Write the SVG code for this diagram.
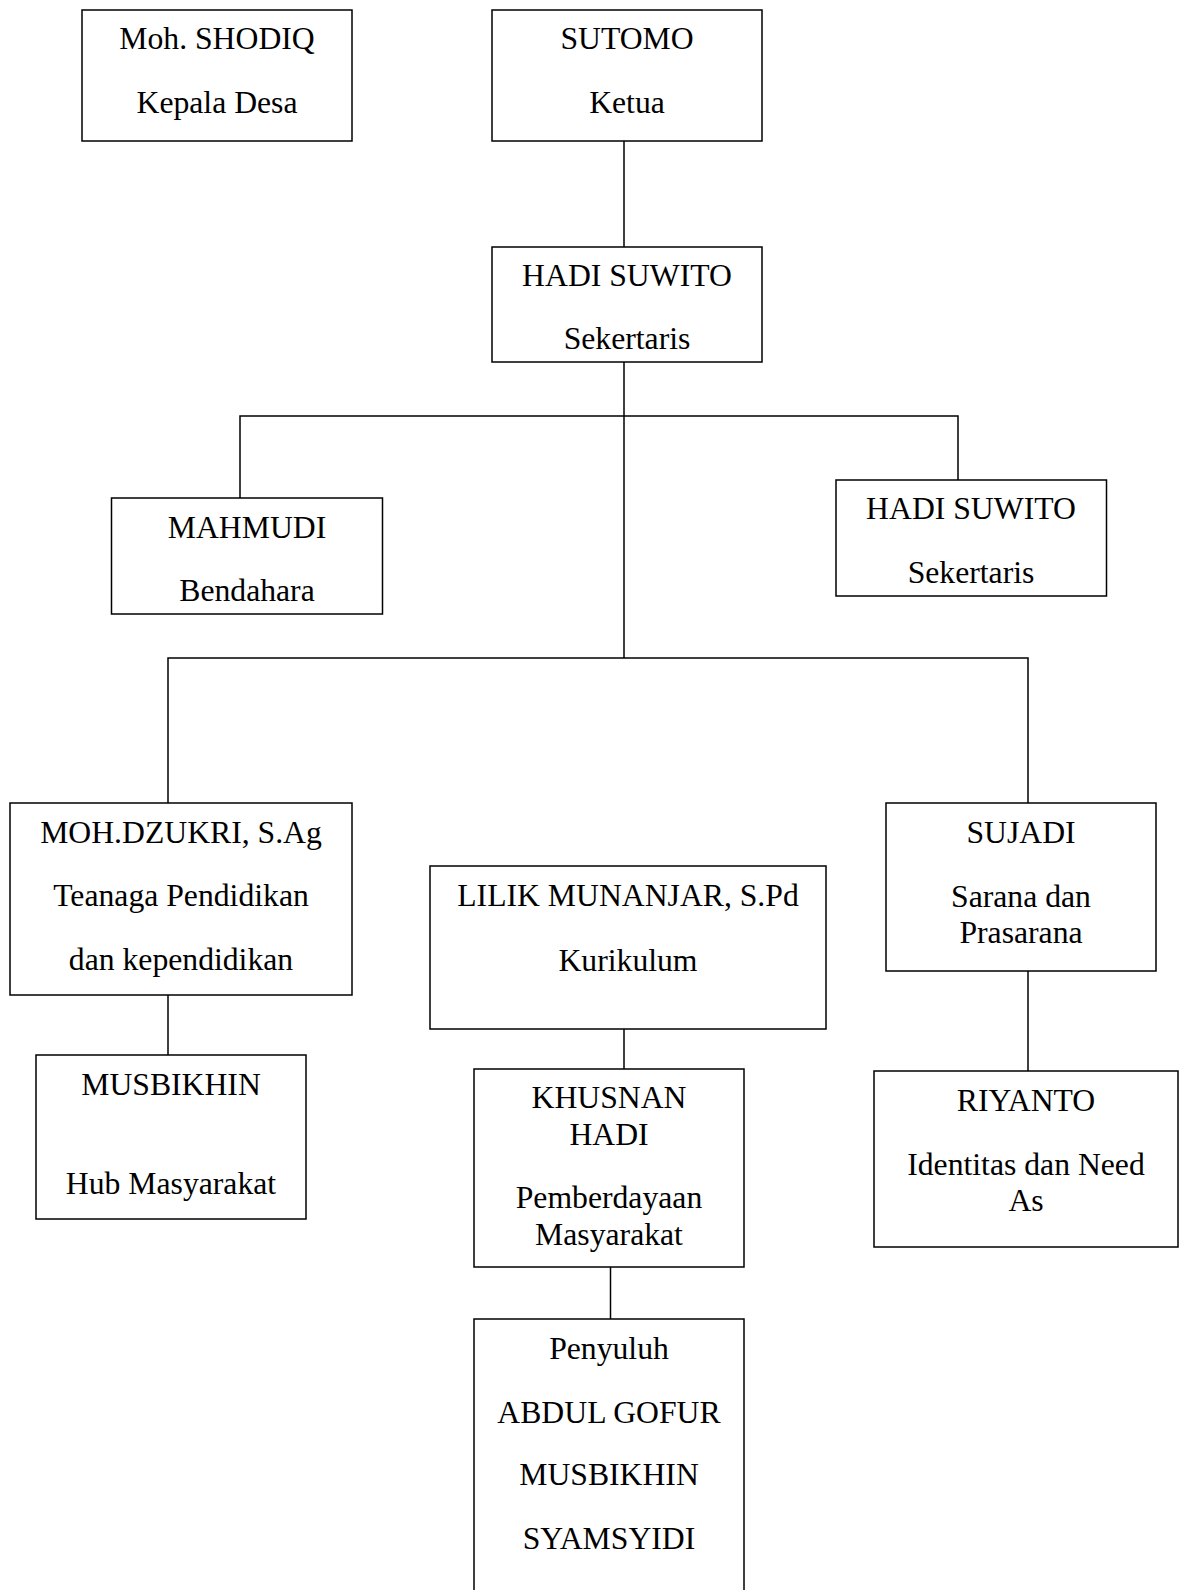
<svg xmlns="http://www.w3.org/2000/svg" width="1185" height="1590" viewBox="0 0 1185 1590">
<style>
.box{fill:#fff;stroke:#000;stroke-width:1.5}
.t{font-family:"Liberation Serif","Times New Roman",serif;font-size:31.7px;fill:#000;text-anchor:middle}
.c{fill:none;stroke:#000;stroke-width:1.5}
</style>
<rect x="0" y="0" width="1185" height="1590" fill="#fff"/>
<g id="connectors">
<path class="c" d="M624 141V247"/>
<path class="c" d="M624 362V658"/>
<path class="c" d="M240 498V416H958V480"/>
<path class="c" d="M168 803V658H1028V803"/>
<path class="c" d="M168 995V1055"/>
<path class="c" d="M624 1029V1069"/>
<path class="c" d="M610.5 1267V1319"/>
<path class="c" d="M1028 971V1071"/>
</g>
<g id="kepala-desa">
<rect class="box" x="82" y="10" width="270" height="131"/>
<text class="t" x="217" y="49">Moh. SHODIQ</text>
<text class="t" x="217" y="113">Kepala Desa</text>
</g>
<g id="ketua">
<rect class="box" x="492" y="10" width="270" height="131"/>
<text class="t" x="627" y="49">SUTOMO</text>
<text class="t" x="627" y="113">Ketua</text>
</g>
<g id="sekertaris">
<rect class="box" x="492" y="247" width="270" height="115"/>
<text class="t" x="627" y="286">HADI SUWITO</text>
<text class="t" x="627" y="349">Sekertaris</text>
</g>
<g id="bendahara">
<rect class="box" x="111.5" y="498" width="271" height="116"/>
<text class="t" x="247" y="538">MAHMUDI</text>
<text class="t" x="247" y="601">Bendahara</text>
</g>
<g id="sekertaris2">
<rect class="box" x="836" y="480" width="270.5" height="116"/>
<text class="t" x="971" y="519">HADI SUWITO</text>
<text class="t" x="971" y="583">Sekertaris</text>
</g>
<g id="tenaga-pendidikan">
<rect class="box" x="10" y="803" width="342" height="192"/>
<text class="t" x="181" y="843">MOH.DZUKRI, S.Ag</text>
<text class="t" x="181" y="906">Teanaga Pendidikan</text>
<text class="t" x="181" y="970">dan kependidikan</text>
</g>
<g id="kurikulum">
<rect class="box" x="430" y="866" width="396" height="163"/>
<text class="t" x="628" y="906">LILIK MUNANJAR, S.Pd</text>
<text class="t" x="628" y="971">Kurikulum</text>
</g>
<g id="sarana">
<rect class="box" x="886" y="803" width="270" height="168"/>
<text class="t" x="1021" y="843">SUJADI</text>
<text class="t" x="1021" y="907">Sarana dan</text>
<text class="t" x="1021" y="943">Prasarana</text>
</g>
<g id="hub-masyarakat">
<rect class="box" x="36" y="1055" width="270" height="164"/>
<text class="t" x="171" y="1095">MUSBIKHIN</text>
<text class="t" x="171" y="1194">Hub Masyarakat</text>
</g>
<g id="pemberdayaan">
<rect class="box" x="474" y="1069" width="270" height="198"/>
<text class="t" x="609" y="1108">KHUSNAN</text>
<text class="t" x="609" y="1145">HADI</text>
<text class="t" x="609" y="1208">Pemberdayaan</text>
<text class="t" x="609" y="1245">Masyarakat</text>
</g>
<g id="identitas">
<rect class="box" x="874" y="1071" width="304" height="176"/>
<text class="t" x="1026" y="1111">RIYANTO</text>
<text class="t" x="1026" y="1175">Identitas dan Need</text>
<text class="t" x="1026" y="1211">As</text>
</g>
<g id="penyuluh">
<rect class="box" x="474" y="1319" width="270" height="290"/>
<text class="t" x="609" y="1359">Penyuluh</text>
<text class="t" x="609" y="1423">ABDUL GOFUR</text>
<text class="t" x="609" y="1485">MUSBIKHIN</text>
<text class="t" x="609" y="1549">SYAMSYIDI</text>
</g>
</svg>
